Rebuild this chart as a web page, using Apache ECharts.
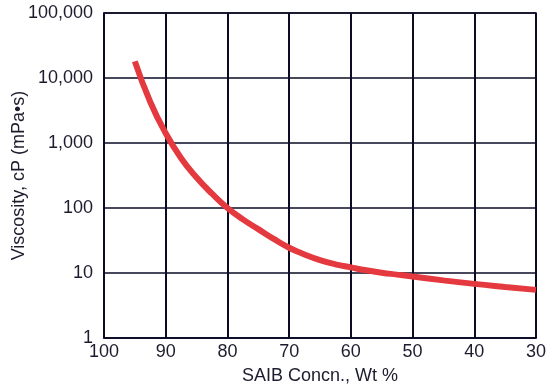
<!DOCTYPE html>
<html>
<head>
<meta charset="utf-8">
<script src="https://cdn.jsdelivr.net/npm/echarts@6/dist/echarts.min.js"></script>
<style>
html,body{margin:0;padding:0;background:#fff;}
#chart{width:550px;height:392px;}
</style>
</head>
<body>
<div id="chart"></div>
<script>
var concentration = [95, 92.5, 90, 87.5, 85, 82.5, 80, 77.5, 75, 72.5, 70, 67.5, 65, 62.5, 60, 57.5, 55, 52.5, 50, 45, 40, 35, 30];
var viscosity = [18000, 4270, 1410, 582, 295, 166, 100, 66.8, 47.3, 33.5, 24.5, 19.3, 15.8, 13.6, 12.2, 11, 10.1, 9.44, 8.83, 7.7, 6.8, 6.1, 5.5];
var xTicks = [100, 90, 80, 70, 60, 50, 40, 30];
var yTicks = [1, 10, 100, 1000, 10000, 100000];
var xName = 'SAIB Concn., Wt %';
var yName = 'Viscosity, cP (mPa\u2022s)';

var seriesData = concentration.map(function (c, i) { return [c, viscosity[i]]; });
var textColor = '#1c1c2e';
var gridColor = '#0b0b26';
var font = 'Liberation Sans, Arial, sans-serif';
var fs = 18;

var chart = echarts.init(document.getElementById('chart'), null, {renderer: 'canvas'});
chart.setOption({
  animation: false,
  backgroundColor: '#ffffff',
  grid: {
    left: 104, right: 14, top: 13, bottom: 54,
    containLabel: false,
    outerBoundsMode: 'none',
    show: true,
    borderColor: gridColor,
    borderWidth: 1.5,
    backgroundColor: 'transparent'
  },
  xAxis: {
    type: 'value',
    inverse: true,
    min: Math.min.apply(null, xTicks),
    max: Math.max.apply(null, xTicks),
    interval: 10,
    name: xName,
    nameLocation: 'middle',
    nameGap: 29,
    nameMoveOverlap: false,
    nameTextStyle: {color: textColor, fontSize: fs, fontFamily: font},
    axisLine: {show: true, lineStyle: {color: gridColor, width: 1.5}},
    axisTick: {show: false},
    axisLabel: {color: textColor, fontSize: fs, fontFamily: font, margin: 5},
    splitLine: {show: true, lineStyle: {color: gridColor, width: 2}}
  },
  yAxis: {
    type: 'log',
    logBase: 10,
    min: yTicks[0],
    max: yTicks[yTicks.length - 1],
    name: yName,
    nameLocation: 'middle',
    nameGap: 76,
    nameMoveOverlap: false,
    nameTextStyle: {color: textColor, fontSize: fs, fontFamily: font},
    axisLine: {show: true, lineStyle: {color: gridColor, width: 1.5}},
    axisTick: {show: false},
    axisLabel: {
      color: textColor, fontSize: fs, fontFamily: font, margin: 11,
      formatter: function (v) { return Math.round(v).toLocaleString('en-US'); }
    },
    splitLine: {show: true, lineStyle: {color: gridColor, width: 1.5}},
    minorSplitLine: {show: false}
  },
  series: [{
    type: 'line',
    data: seriesData,
    smooth: 0.5,
    showSymbol: false,
    symbol: 'none',
    lineStyle: {color: '#e4393e', width: 6, cap: 'butt'},
    z: 5
  }]
});
</script>
</body>
</html>
